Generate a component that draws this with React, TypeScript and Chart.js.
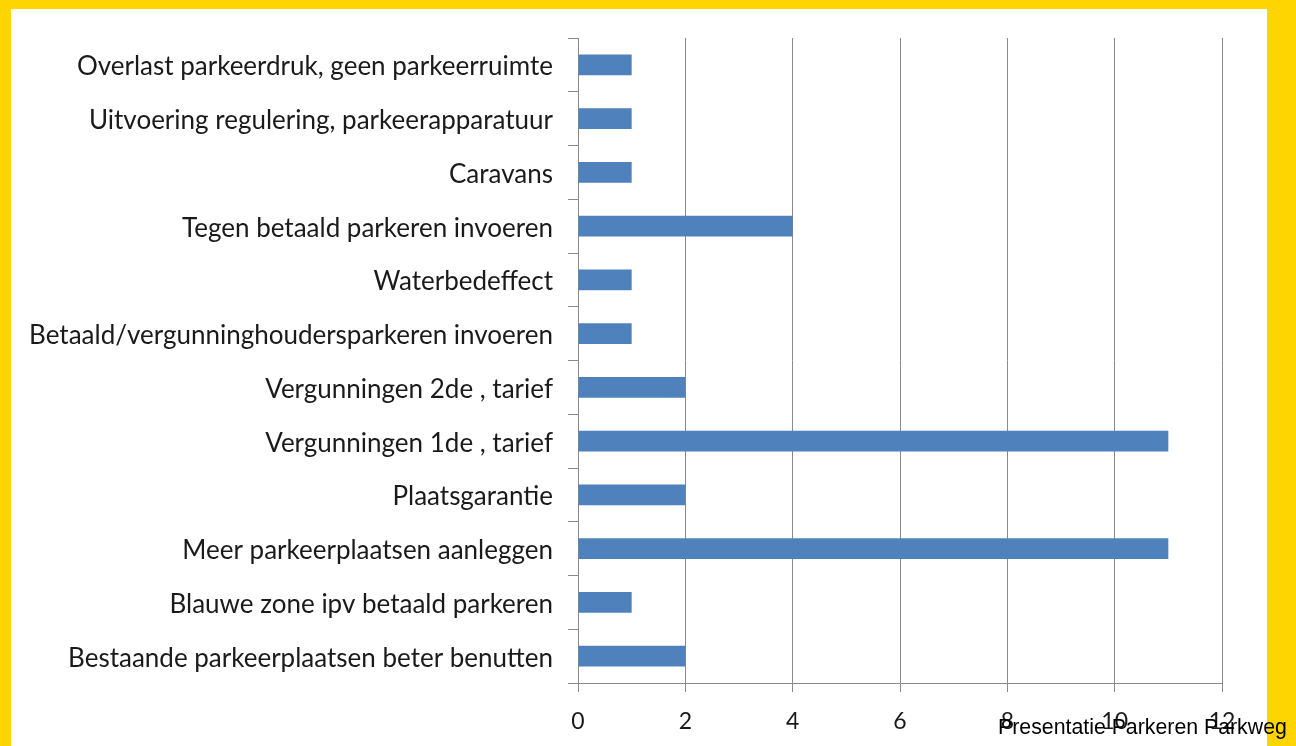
import React, { useEffect, useRef } from "react";
import { Chart, registerables } from "chart.js";

Chart.register(...registerables);

const categories: string[] = [
  "Overlast parkeerdruk, geen parkeerruimte",
  "Uitvoering regulering, parkeerapparatuur",
  "Caravans",
  "Tegen betaald parkeren invoeren",
  "Waterbedeffect",
  "Betaald/vergunninghoudersparkeren invoeren",
  "Vergunningen 2de , tarief",
  "Vergunningen 1de , tarief",
  "Plaatsgarantie",
  "Meer parkeerplaatsen aanleggen",
  "Blauwe zone ipv betaald parkeren",
  "Bestaande parkeerplaatsen beter benutten",
];

const counts: number[] = [1, 1, 1, 4, 1, 1, 2, 11, 2, 11, 1, 2];

const xMin = 0;
const xMax = 12;
const xStep = 2;

const footerText = "Presentatie Parkeren Parkweg";

export default function App() {
  const canvasRef = useRef<HTMLCanvasElement | null>(null);

  useEffect(() => {
    document.body.style.margin = "0";
    const canvas = canvasRef.current;
    if (!canvas) return;
    const chart = new Chart(canvas, {
      type: "bar",
      data: {
        labels: categories,
        datasets: [
          {
            data: counts,
            backgroundColor: "#4F81BD",
            borderWidth: 0,
            barPercentage: 0.39,
            categoryPercentage: 1,
          },
        ],
      },
      options: {
        indexAxis: "y",
        responsive: false,
        animation: false,
        maintainAspectRatio: false,
        layout: { padding: { top: 38, right: 74, left: 0, bottom: 0 } },
        plugins: {
          legend: { display: false },
          tooltip: { enabled: false },
          title: { display: false },
        },
        scales: {
          x: {
            min: xMin,
            max: xMax,
            ticks: {
              stepSize: xStep,
              color: "#1a1a1a",
              font: { family: "Lato", size: 23 },
              padding: 16,
            },
            grid: {
              color: "#8a8a8a",
              lineWidth: 1,
              tickLength: 9,
              drawTicks: true,
            },
            border: { display: true, color: "#8a8a8a" },
            afterFit: (scale: any) => {
              scale.height = 63;
            },
          },
          y: {
            ticks: {
              color: "#1a1a1a",
              font: { family: "Lato", size: 26 },
              padding: 15,
              labelOffset: 2,
              autoSkip: false,
            },
            grid: {
              offset: true,
              drawOnChartArea: false,
              drawTicks: true,
              tickLength: 10,
              color: "#8a8a8a",
            },
            border: { display: true, color: "#8a8a8a" },
            afterFit: (scale: any) => {
              scale.width = 578;
            },
          },
        },
      },
    });
    return () => chart.destroy();
  }, []);

  return (
    <div
      style={{
        position: "fixed",
        left: 0,
        top: 0,
        width: 1296,
        height: 746,
        background: "#FFD500",
        overflow: "hidden",
      }}
    >
      <div
        style={{
          position: "absolute",
          left: 11,
          top: 9,
          width: 1256,
          height: 737,
          background: "#ffffff",
        }}
      />
      <canvas
        ref={canvasRef}
        width={1296}
        height={746}
        style={{ position: "absolute", left: 0, top: 0, width: 1296, height: 746 }}
      />
      <div
        style={{
          position: "absolute",
          left: 998,
          top: 717,
          fontFamily: "'Liberation Sans', Arial, sans-serif",
          fontSize: 21.3,
          lineHeight: "21px",
          color: "#000",
          whiteSpace: "nowrap",
        }}
      >
        {footerText}
      </div>
    </div>
  );
}
